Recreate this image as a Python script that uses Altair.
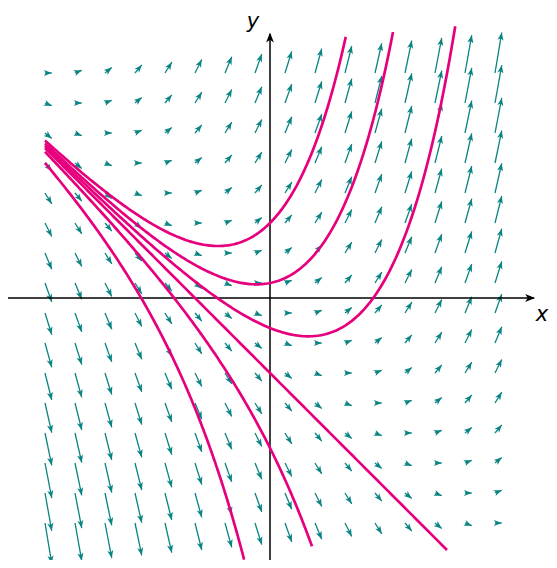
import altair as alt
import numpy as np
import pandas as pd

# Direction field of y' = x + y, with solution curves y = C*e^x - x - 1
grid_x = [-3.0, -2.6, -2.2, -1.8, -1.4, -1.0, -0.6, -0.2, 0.2, 0.6, 1.0, 1.4, 1.8, 2.2, 2.6, 3.0]
grid_y = [-3.0, -2.6, -2.2, -1.8, -1.4, -1.0, -0.6, -0.2, 0.2, 0.6, 1.0, 1.4, 1.8, 2.2, 2.6, 3.0]
curve_c = [2.0, 1.2, 0.6, 0.0, -1.0, -4.0]
curve_x_start = [-3.0, -3.0, -3.0, -3.0, -3.0, -3.0]
curve_x_end = [1.01, 1.64, 2.47, 2.36, 0.56, -0.345]
arrow_scale = 0.09

W, H = 541, 552
X0, Y0, U = 262.0, 290.0, 75.0
xdom = [-X0 / U, (W - X0) / U]
ydom = [(Y0 - H) / U, Y0 / U]

rows = []
for gx in grid_x:
    for gy in grid_y:
        s = gx + gy
        rows.append({
            "x": gx, "y": gy,
            "x2": gx + arrow_scale, "y2": gy + arrow_scale * s,
            "ang": 90.0 - np.degrees(np.arctan(s)),
        })
field = pd.DataFrame(rows)

crows = []
for i, (c, a, b) in enumerate(zip(curve_c, curve_x_start, curve_x_end)):
    for xv in np.linspace(a, b, 200):
        crows.append({"id": i, "x": xv, "y": c * np.exp(xv) - xv - 1, "o": xv})
curves = pd.DataFrame(crows)

xs = alt.Scale(domain=xdom, nice=False, zero=False)
ys = alt.Scale(domain=ydom, nice=False, zero=False)
X = lambda f: alt.X(f, type="quantitative", scale=xs, axis=None)
Y = lambda f: alt.Y(f, type="quantitative", scale=ys, axis=None)

teal = "#0a8383"
head_path = "M0,0 L0.45,1.15 L0,0.85 L-0.45,1.15 Z"

shafts = alt.Chart(field).mark_rule(color=teal, strokeWidth=1.3).encode(
    x=X("x"), y=Y("y"), x2=alt.X2("x2"), y2=alt.Y2("y2")
)
heads = alt.Chart(field).mark_point(
    shape=head_path, filled=True, color=teal, opacity=1, size=185, strokeWidth=0
).encode(
    x=X("x2"), y=Y("y2"), angle=alt.Angle("ang:Q", scale=None)
)

ax_df = pd.DataFrame({
    "x": [-3.55, 0.0], "y": [0.0, -3.52], "x2": [3.52, 0.0], "y2": [0.0, 3.52],
    "hx": [3.535, 0.0], "hy": [0.0, 3.54], "ang": [90.0, 0.0],
})
axes = alt.Chart(ax_df).mark_rule(color="black", strokeWidth=1.5).encode(
    x=X("x"), y=Y("y"), x2=alt.X2("x2"), y2=alt.Y2("y2")
)
ax_heads = alt.Chart(ax_df).mark_point(
    shape=head_path, filled=True, color="black", opacity=1, size=300, strokeWidth=0
).encode(
    x=X("hx"), y=Y("hy"), angle=alt.Angle("ang:Q", scale=None)
)

lab_df = pd.DataFrame({"x": [-0.227, 3.627], "y": [3.60, -0.307], "t": ["y", "x"]})
labels = alt.Chart(lab_df).mark_text(
    fontSize=21, fontStyle="italic", font="DejaVu Sans", color="black",
    align="center", baseline="alphabetic"
).encode(x=X("x"), y=Y("y"), text="t:N")

lines = alt.Chart(curves).mark_line(color="#e6007e", strokeWidth=2.7).encode(
    x=X("x"), y=Y("y"), detail="id:N", order="o:Q"
)

chart = alt.layer(shafts, heads, axes, ax_heads, lines, labels).properties(
    width=W, height=H, padding=0, background="white",
    autosize=alt.AutoSizeParams(type="none")
).configure_view(stroke=None)

chart.save("out.html", embed_options={"renderer": "svg", "actions": False})
